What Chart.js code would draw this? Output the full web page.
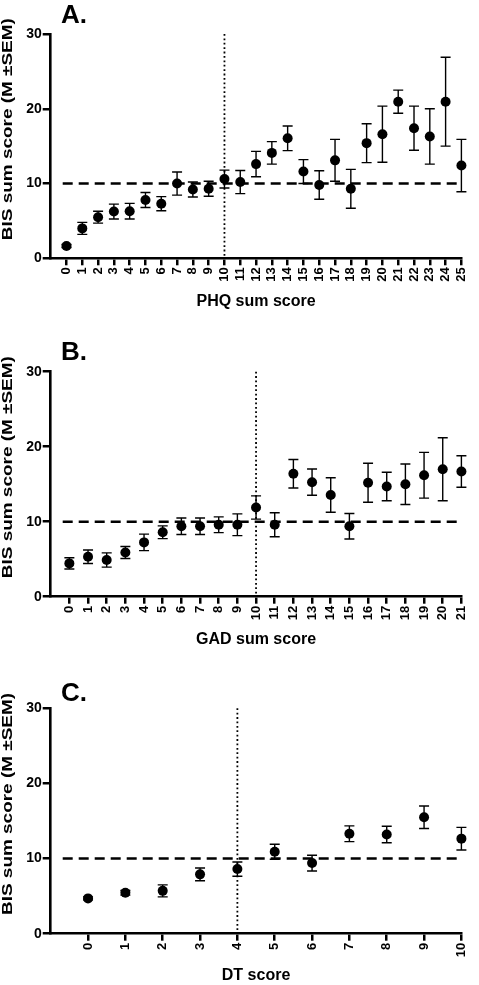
<!DOCTYPE html>
<html>
<head>
<meta charset="utf-8">
<script src="https://cdn.jsdelivr.net/npm/chart.js@4.4.1/dist/chart.umd.min.js"></script>
<style>
  html, body { margin: 0; padding: 0; background: #fff; }
  body { width: 479px; height: 985px; position: relative; overflow: hidden; }
  canvas { position: absolute; left: 0; }
</style>
</head>
<body>
<canvas id="chartA" width="479" height="315" style="top:0px"></canvas>
<canvas id="chartB" width="479" height="338" style="top:315px"></canvas>
<canvas id="chartC" width="479" height="332" style="top:653px"></canvas>
<script>
// PHQ panel
const phqScores = [0, 1, 2, 3, 4, 5, 6, 7, 8, 9, 10, 11, 12, 13, 14, 15, 16, 17, 18, 19, 20, 21, 22, 23, 24, 25];
const phqMeans = [1.65, 4.0, 5.5, 6.25, 6.3, 7.8, 7.3, 10.0, 9.2, 9.3, 10.6, 10.2, 12.6, 14.1, 16.05, 11.6, 9.8, 13.1, 9.3, 15.4, 16.6, 20.95, 17.4, 16.3, 20.95, 12.4];
const phqSem = [0.2, 0.8, 0.8, 1.0, 1.05, 1.0, 0.95, 1.55, 1.0, 1.0, 1.2, 1.55, 1.7, 1.5, 1.65, 1.6, 1.9, 2.8, 2.6, 2.6, 3.75, 1.55, 2.95, 3.7, 5.95, 3.5];

// GAD panel
const gadScores = [0, 1, 2, 3, 4, 5, 6, 7, 8, 9, 10, 11, 12, 13, 14, 15, 16, 17, 18, 19, 20, 21];
const gadMeans = [4.44, 5.33, 4.9, 5.9, 7.24, 8.6, 9.4, 9.4, 9.6, 9.6, 11.9, 9.6, 16.4, 15.27, 13.56, 9.4, 15.2, 14.7, 15.0, 16.2, 17.0, 16.7];
const gadSem = [0.75, 0.9, 0.95, 0.8, 1.1, 0.85, 1.1, 1.1, 1.05, 1.45, 1.55, 1.6, 1.9, 1.75, 2.3, 1.7, 2.6, 1.9, 2.7, 3.05, 4.2, 2.1];

// DT panel
const dtScores = [0, 1, 2, 3, 4, 5, 6, 7, 8, 9, 10];
const dtMeans = [4.7, 5.44, 5.7, 7.9, 8.6, 10.9, 9.4, 13.3, 13.2, 15.5, 12.65];
const dtSem = [0.2, 0.3, 0.8, 0.85, 0.95, 1.0, 1.05, 1.05, 1.1, 1.5, 1.5];

const yTicks = [0, 10, 20, 30];
const bisCutoff = 10;
const yTitle = 'BIS sum score (M \u00B1SEM)';

Chart.defaults.font.family = '"Liberation Sans", Arial, sans-serif';
Chart.defaults.font.weight = 'bold';
Chart.defaults.color = '#000';

// dashed/dotted reference lines + error bars, under the points
const errorBars = {
  id: 'errorBars',
  beforeDatasetsDraw(chart) {
    const { ctx, chartArea: a, scales: { x, y } } = chart;
    const ds = chart.data.datasets[0];
    ctx.save();
    ctx.strokeStyle = '#000';

    const yc = y.getPixelForValue(ds.hLine);
    ctx.lineWidth = 2.6;
    ctx.setLineDash([10, 6]);
    ctx.beginPath();
    ctx.moveTo(a.left + 12, yc);
    ctx.lineTo(a.right, yc);
    ctx.stroke();

    const xc = x.getPixelForValue(ds.vLine);
    ctx.lineWidth = 1.8;
    ctx.setLineDash([1.8, 2.6]);
    ctx.beginPath();
    ctx.moveTo(xc, y.getPixelForValue(30));
    ctx.lineTo(xc, a.bottom);
    ctx.stroke();

    ctx.setLineDash([]);
    ctx.lineWidth = 1.4;
    ds.data.forEach((p, i) => {
      const px = x.getPixelForValue(p.x);
      const top = y.getPixelForValue(p.y + ds.sem[i]);
      const bot = y.getPixelForValue(p.y - ds.sem[i]);
      ctx.beginPath();
      ctx.moveTo(px, top); ctx.lineTo(px, bot);
      ctx.moveTo(px - 5, top); ctx.lineTo(px + 5, top);
      ctx.moveTo(px - 5, bot); ctx.lineTo(px + 5, bot);
      ctx.stroke();
    });
    ctx.restore();
  },
  afterDraw(chart) {
    const { ctx, chartArea: a } = chart;
    const ds = chart.data.datasets[0];
    ctx.save();
    ctx.fillStyle = '#000';
    ctx.font = 'bold 26px "Liberation Sans", Arial, sans-serif';
    ctx.textBaseline = 'alphabetic';
    ctx.fillText(ds.letter, 61, a.top - ds.letterGap);

    // y title, a bit above the centre of the plot like the original
    ctx.font = 'bold 15px "Liberation Sans", Arial, sans-serif';
    const w = ctx.measureText(yTitle).width;
    ctx.translate(8, (a.top + a.bottom) / 2 - 17);
    ctx.rotate(-Math.PI / 2);
    ctx.scale(222 / w, 1);
    ctx.textAlign = 'center';
    ctx.textBaseline = 'middle';
    ctx.fillText(yTitle, 0, 0);
    ctx.restore();
  }
};

function makePanel(id, letter, scores, means, sem, vLine, xTitle, top, bottom, titlePad, letterGap) {
  const canvas = document.getElementById(id);
  return new Chart(canvas, {
    type: 'scatter',
    data: {
      datasets: [{
        data: scores.map((s, i) => ({ x: s, y: means[i] })),
        sem: sem,
        hLine: bisCutoff,
        vLine: vLine,
        letter: letter,
        letterGap: letterGap,
        backgroundColor: '#000',
        borderColor: '#000',
        borderWidth: 0,
        pointRadius: 5,
        clip: false
      }]
    },
    options: {
      responsive: false,
      animation: false,
      events: [],
      layout: { padding: { top: top, right: 9, left: 0, bottom: 0 } },
      plugins: { legend: { display: false }, tooltip: { enabled: false } },
      scales: {
        x: {
          type: 'linear',
          min: -1,
          max: scores[scores.length - 1],
          afterBuildTicks: axis => { axis.ticks = scores.map(v => ({ value: v })); },
          afterFit: s => { s.height = canvas.height - bottom; },
          ticks: { autoSkip: false, minRotation: 90, maxRotation: 90, padding: 2, font: { size: 13 } },
          grid: { drawOnChartArea: false, tickLength: 7, lineWidth: 2.5, color: '#000' },
          border: { color: '#000', width: 2.6 },
          title: { display: true, text: xTitle, font: { size: 16 }, padding: { top: 0, bottom: titlePad } }
        },
        y: {
          min: 0,
          max: 30,
          afterBuildTicks: axis => { axis.ticks = yTicks.map(v => ({ value: v })); },
          afterFit: s => { s.width = 50.7; },
          ticks: { padding: 1, font: { size: 14 } },
          grid: { drawOnChartArea: false, tickLength: 8, lineWidth: 2.5, color: '#000' },
          border: { color: '#000', width: 2.6 }
        }
      }
    },
    plugins: [errorBars]
  });
}

makePanel('chartA', 'A.', phqScores, phqMeans, phqSem, 10, 'PHQ sum score', 34, 258.3, 4, 11);
makePanel('chartB', 'B.', gadScores, gadMeans, gadSem, 10, 'GAD sum score', 56.7, 281.7, 4, 11.7);
makePanel('chartC', 'C.', dtScores, dtMeans, dtSem, 4, 'DT score', 55.3, 280.7, 0, 7.3);
</script>
</body>
</html>
